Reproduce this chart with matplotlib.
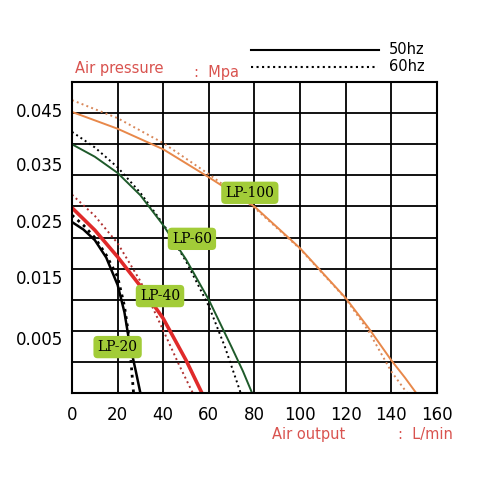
import matplotlib
matplotlib.use("Agg")
import matplotlib.pyplot as plt
import numpy as np

# data (x: L/min, y: MPa)
lp100_50_x = [0, 20, 40, 60, 80, 100, 120, 130, 140, 146, 151]
lp100_50_y = [0.0452, 0.0425, 0.0392, 0.0347, 0.0300, 0.0233, 0.0153, 0.0105, 0.0053, 0.0025, 0.0]
lp100_60_x = [0, 20, 40, 60, 80, 100, 120, 130, 140, 147]
lp100_60_y = [0.0471, 0.0442, 0.0402, 0.0352, 0.0298, 0.0232, 0.0152, 0.0100, 0.0035, 0.0]
lp60_50_x = [0, 10, 20, 30, 40, 50, 60, 70, 75, 79]
lp60_50_y = [0.0400, 0.0380, 0.0354, 0.0318, 0.0270, 0.0215, 0.0150, 0.0074, 0.0035, 0.0]
lp60_60_x = [0, 10, 20, 30, 40, 50, 60, 67, 74]
lp60_60_y = [0.0420, 0.0395, 0.0363, 0.0322, 0.0272, 0.0212, 0.0140, 0.0075, 0.0]
lp40_50_x = [0, 10, 20, 30, 40, 50, 57]
lp40_50_y = [0.0298, 0.0262, 0.0219, 0.0172, 0.0120, 0.0053, 0.0]
lp40_60_x = [0, 10, 20, 30, 40, 47, 53]
lp40_60_y = [0.0319, 0.0285, 0.0241, 0.0180, 0.0101, 0.0045, 0.0]
lp20_50_x = [0, 5, 10, 15, 20, 23, 25, 28, 30]
lp20_50_y = [0.0275, 0.0263, 0.0246, 0.0218, 0.0174, 0.0130, 0.0085, 0.0035, 0.0]
lp20_60_x = [0, 5, 10, 15, 20, 23, 25, 27]
lp20_60_y = [0.0286, 0.0270, 0.0250, 0.0222, 0.0187, 0.0140, 0.0090, 0.0]
labels = ["LP-100", "LP-60", "LP-40", "LP-20"]
label_x = [78, 52.6, 38.6, 20]
label_y = [0.0322, 0.0248, 0.0156, 0.0074]
xticks = [0, 20, 40, 60, 80, 100, 120, 140, 160]
ytick_labels = ["0.045", "0.035", "0.025", "0.015", "0.005"]
ytick_pos = [0.0452, 0.0365, 0.0273, 0.0183, 0.0085]  # as printed (labels drift from grid)

fig = plt.figure(figsize=(4.8, 4.8), dpi=100)
ax = fig.add_axes([0.15, 0.181, 0.76, 0.648])
ax.set_xlim(0, 160)
ax.set_ylim(0, 0.05)
ax.set_xticks(np.arange(0, 161, 20))
ax.set_yticks(np.arange(0, 0.0501, 0.005))
ax.grid(True, color="black", lw=1.3)
ax.tick_params(length=0, labelbottom=False, labelleft=False)
for s in ax.spines.values():
    s.set_linewidth(1.5)

ax.plot(lp100_60_x, lp100_60_y, color="#d9885a", ls=":", lw=1.4)
ax.plot(lp100_50_x, lp100_50_y, color="#e8884a", lw=1.4)
ax.plot(lp60_60_x, lp60_60_y, color="black", ls=":", lw=1.4)
ax.plot(lp60_50_x, lp60_50_y, color="#1e5a2a", lw=1.4)
ax.plot(lp40_60_x, lp40_60_y, color="#b03030", ls=":", lw=1.4)
ax.plot(lp40_50_x, lp40_50_y, color="#e02a2a", lw=2.6)
ax.plot(lp20_60_x, lp20_60_y, color="black", ls=":", lw=2.0)
ax.plot(lp20_50_x, lp20_50_y, color="black", lw=1.8)

for t, x, y in zip(labels, label_x, label_y):
    ax.text(x, y, t, ha="center", va="center", family="DejaVu Serif", fontsize=10,
            bbox=dict(boxstyle="round,pad=0.3", fc="#a2cc38", ec="none"), zorder=5)

for t, v in zip(ytick_labels, ytick_pos):
    ax.text(-0.025, v, t, transform=ax.get_yaxis_transform(),
            ha="right", va="center", fontsize=12)
for v in xticks:
    ax.text(v, -0.0035, str(v), ha="center", va="center", fontsize=12, clip_on=False)

red = "#d9534f"
fig.text(0.156, 0.848, "Air pressure", color=red, fontsize=10.5)
fig.text(0.405, 0.84, ":  Mpa", color=red, fontsize=10.5)
fig.text(0.567, 0.085, "Air output", color=red, fontsize=10.5)
fig.text(0.83, 0.085, ":  L/min", color=red, fontsize=10.5)
fig.add_artist(plt.Line2D([0.523, 0.79], [0.896, 0.896], color="black", lw=1.5))
fig.add_artist(plt.Line2D([0.523, 0.787], [0.861, 0.861], color="black", lw=1.5, ls=":"))
fig.text(0.81, 0.896, "50hz", fontsize=10.5, va="center")
fig.text(0.81, 0.861, "60hz", fontsize=10.5, va="center")

fig.savefig("out.png", dpi=100)
